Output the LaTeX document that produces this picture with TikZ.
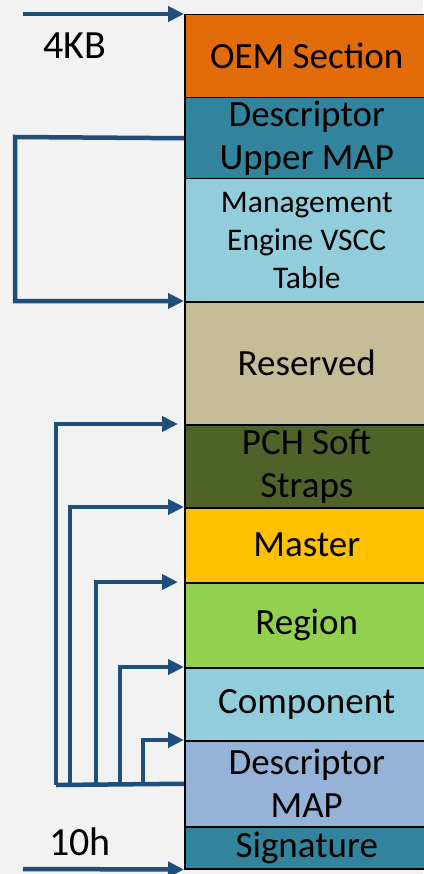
\documentclass[tikz,border=0pt]{standalone}
\usepackage{fontspec}
\setmainfont{Carlito}
\usetikzlibrary{arrows.meta}
\definecolor{bg}{HTML}{F2F2F2}
\definecolor{arrowblue}{HTML}{1F4E79}
\definecolor{oemc}{HTML}{E36C0A}
\definecolor{tealc}{HTML}{31849B}
\definecolor{lightc}{HTML}{92CDDC}
\definecolor{resc}{HTML}{C4BD97}
\definecolor{pchc}{HTML}{4F6228}
\definecolor{masterc}{HTML}{FFC000}
\definecolor{regionc}{HTML}{92D050}
\definecolor{dmapc}{HTML}{95B3D7}
\begin{document}
\begin{tikzpicture}[x=1pt,y=-1pt,
  box/.style={draw=black, line width=1.5pt, anchor=north west, minimum width=244,
    inner sep=0pt, align=center, font=\fontsize{37}{43}\selectfont},
  conn/.style={draw=arrowblue, line width=4.5pt},
  arr/.style={conn, -{Triangle[length=16pt,width=15pt]}},
  lbl/.style={font=\fontsize{40}{46}\selectfont}]
\fill[bg] (0,0) rectangle (423,874);
\useasboundingbox (0,0) rectangle (423,874);
\node[box, fill=oemc, minimum height=83] (oem) at (184,14) {OEM Section};
\node[box, fill=tealc, minimum height=81] (dup) at (184,97) {Descriptor\\Upper MAP};
\node[box, fill=lightc, minimum height=123, font=\fontsize{31.5}{38}\selectfont] (me) at (184,178) {Management\\Engine VSCC\\Table};
\node[box, fill=resc, minimum height=123] (res) at (184,301) {Reserved};
\node[box, fill=pchc, minimum height=83] (pch) at (184,424) {PCH Soft\\Straps};
\node[box, fill=masterc, minimum height=75] (master) at (184,507) {Master};
\node[box, fill=regionc, minimum height=85] (region) at (184,582) {Region};
\node[box, fill=lightc, minimum height=73] (comp) at (184,667) {Component};
\node[box, fill=dmapc, minimum height=86] (dmap) at (184,740) {Descriptor\\MAP};
\node[box, fill=tealc, minimum height=42] (sig) at (184,826) {Signature};

\node[lbl] (kb) at (75,46) {4KB};
\node[lbl] (tenh) at (80,842) {10h};

\coordinate (t4k) at (23,14);
\coordinate (t10) at (23,869);
\draw[arr] (t4k) -- (oem.north west);
\draw[arr] (t10) -- (sig.south west);

\coordinate (u1) at (15,137);
\draw[arr] (dup.west) -- (u1) |- (res.north west);

\coordinate (b1) at (56,785);
\coordinate (b2) at (70,785);
\coordinate (b3) at (96,785);
\coordinate (b4) at (120,785);
\coordinate (b5) at (143,785);
\draw[conn] (dmap.west) -- (b1);
\draw[arr, shorten >=6pt] (b1) |- (pch.north west);
\draw[arr] (b2) |- (master.north west);
\draw[arr, shorten >=6pt] (b3) |- (region.north west);
\draw[arr] (b4) |- (comp.north west);
\draw[arr] (b5) |- (dmap.north west);
\end{tikzpicture}
\end{document}
